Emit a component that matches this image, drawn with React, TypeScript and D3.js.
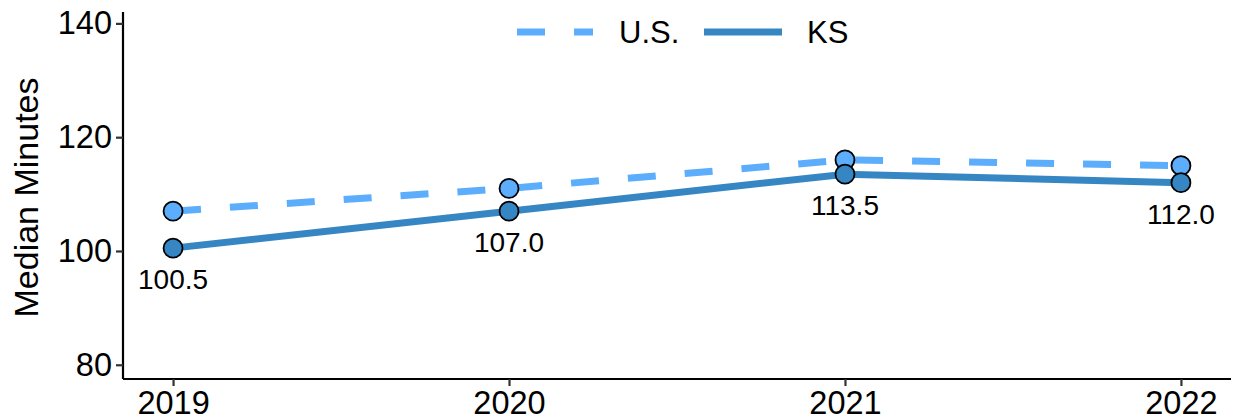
import React, { useEffect, useRef } from 'react';
import * as d3 from 'd3';

const years = ['2019', '2020', '2021', '2022'];
const usValues = [107, 111, 116, 115];
const ksValues = [100.5, 107.0, 113.5, 112.0];
const yTicks = [80, 100, 120, 140];
const seriesNames = ['U.S.', 'KS'];

const US_COLOR = '#5caefd';
const KS_COLOR = '#3686c4';
const FONT = '"Liberation Sans", Arial, sans-serif';

const App: React.FC = () => {
  const svgRef = useRef<SVGSVGElement>(null);
  const width = 1236;
  const height = 419;

  useEffect(() => {
    if (!svgRef.current) return;
    const svg = d3.select(svgRef.current);
    svg.selectAll('*').remove();

    const plot = { left: 123, right: 1231, top: 12, bottom: 379 };

    const x = d3.scalePoint<string>()
      .domain(years)
      .range([plot.left, plot.right])
      .padding(0.149);

    const y = d3.scaleLinear()
      .domain([77.5, 142])
      .range([plot.bottom, plot.top]);

    // axes
    const yAxis = svg.append('g')
      .attr('transform', `translate(${plot.left},0)`)
      .call(d3.axisLeft(y).tickValues(yTicks).tickSize(7).tickPadding(4));
    yAxis.select('.domain').attr('d', `M0,${plot.top}V${plot.bottom}`);

    const xAxis = svg.append('g')
      .attr('transform', `translate(0,${plot.bottom})`)
      .call(d3.axisBottom(x).tickSize(7).tickPadding(5));
    xAxis.select('.domain').attr('d', `M${plot.left},0H${plot.right}`);

    [yAxis, xAxis].forEach(ax => {
      ax.select('.domain').attr('stroke', '#000').attr('stroke-width', 2.2);
      ax.selectAll('.tick line').attr('stroke', '#333').attr('stroke-width', 2.2);
      ax.selectAll('.tick text')
        .attr('fill', '#000')
        .style('font-family', FONT)
        .style('font-size', '32.5px');
    });

    // axis title
    svg.append('text')
      .attr('transform', `translate(38,${(plot.top + plot.bottom) / 2 + 2}) rotate(-90)`)
      .attr('text-anchor', 'middle')
      .style('font-family', FONT)
      .style('font-size', '34px')
      .attr('fill', '#000')
      .text('Median Minutes');

    const line = d3.line<number>()
      .x((_, i) => x(years[i]) as number)
      .y(d => y(d));

    svg.append('path')
      .datum(usValues)
      .attr('d', line)
      .attr('fill', 'none')
      .attr('stroke', US_COLOR)
      .attr('stroke-width', 7)
      .attr('stroke-dasharray', '28,29');

    svg.append('path')
      .datum(ksValues)
      .attr('d', line)
      .attr('fill', 'none')
      .attr('stroke', KS_COLOR)
      .attr('stroke-width', 7);

    svg.append('g').selectAll('circle')
      .data(usValues)
      .enter()
      .append('circle')
      .attr('cx', (_, i) => x(years[i]) as number)
      .attr('cy', d => y(d))
      .attr('r', 9.5)
      .attr('fill', US_COLOR)
      .attr('stroke', '#000')
      .attr('stroke-width', 1.8);

    svg.append('g').selectAll('circle')
      .data(ksValues)
      .enter()
      .append('circle')
      .attr('cx', (_, i) => x(years[i]) as number)
      .attr('cy', d => y(d))
      .attr('r', 9.5)
      .attr('fill', KS_COLOR)
      .attr('stroke', '#000')
      .attr('stroke-width', 1.8);

    // value labels under KS points
    svg.append('g').selectAll('text')
      .data(ksValues)
      .enter()
      .append('text')
      .attr('x', (_, i) => x(years[i]) as number)
      .attr('y', d => y(d) + 41)
      .attr('text-anchor', 'middle')
      .style('font-family', FONT)
      .style('font-size', '28px')
      .attr('fill', '#000')
      .text(d => d.toFixed(1));

    // legend
    const legend = svg.append('g');
    const legendItems = [
      { name: seriesNames[0], color: US_COLOR, dash: '28,29', x1: 517, x2: 593, tx: 619 },
      { name: seriesNames[1], color: KS_COLOR, dash: null, x1: 704, x2: 782, tx: 807 },
    ];
    legendItems.forEach(item => {
      legend.append('line')
        .attr('x1', item.x1)
        .attr('x2', item.x2)
        .attr('y1', 32)
        .attr('y2', 32)
        .attr('stroke', item.color)
        .attr('stroke-width', 7)
        .attr('stroke-dasharray', item.dash);
      legend.append('text')
        .attr('x', item.tx)
        .attr('y', 43)
        .style('font-family', FONT)
        .style('font-size', '31px')
        .attr('fill', '#000')
        .text(item.name);
    });
  }, []);

  return (
    <div style={{ position: 'absolute', left: 0, top: 0, background: '#fff' }}>
      <svg ref={svgRef} width={width} height={height} style={{ display: 'block' }} />
    </div>
  );
};

export default App;
